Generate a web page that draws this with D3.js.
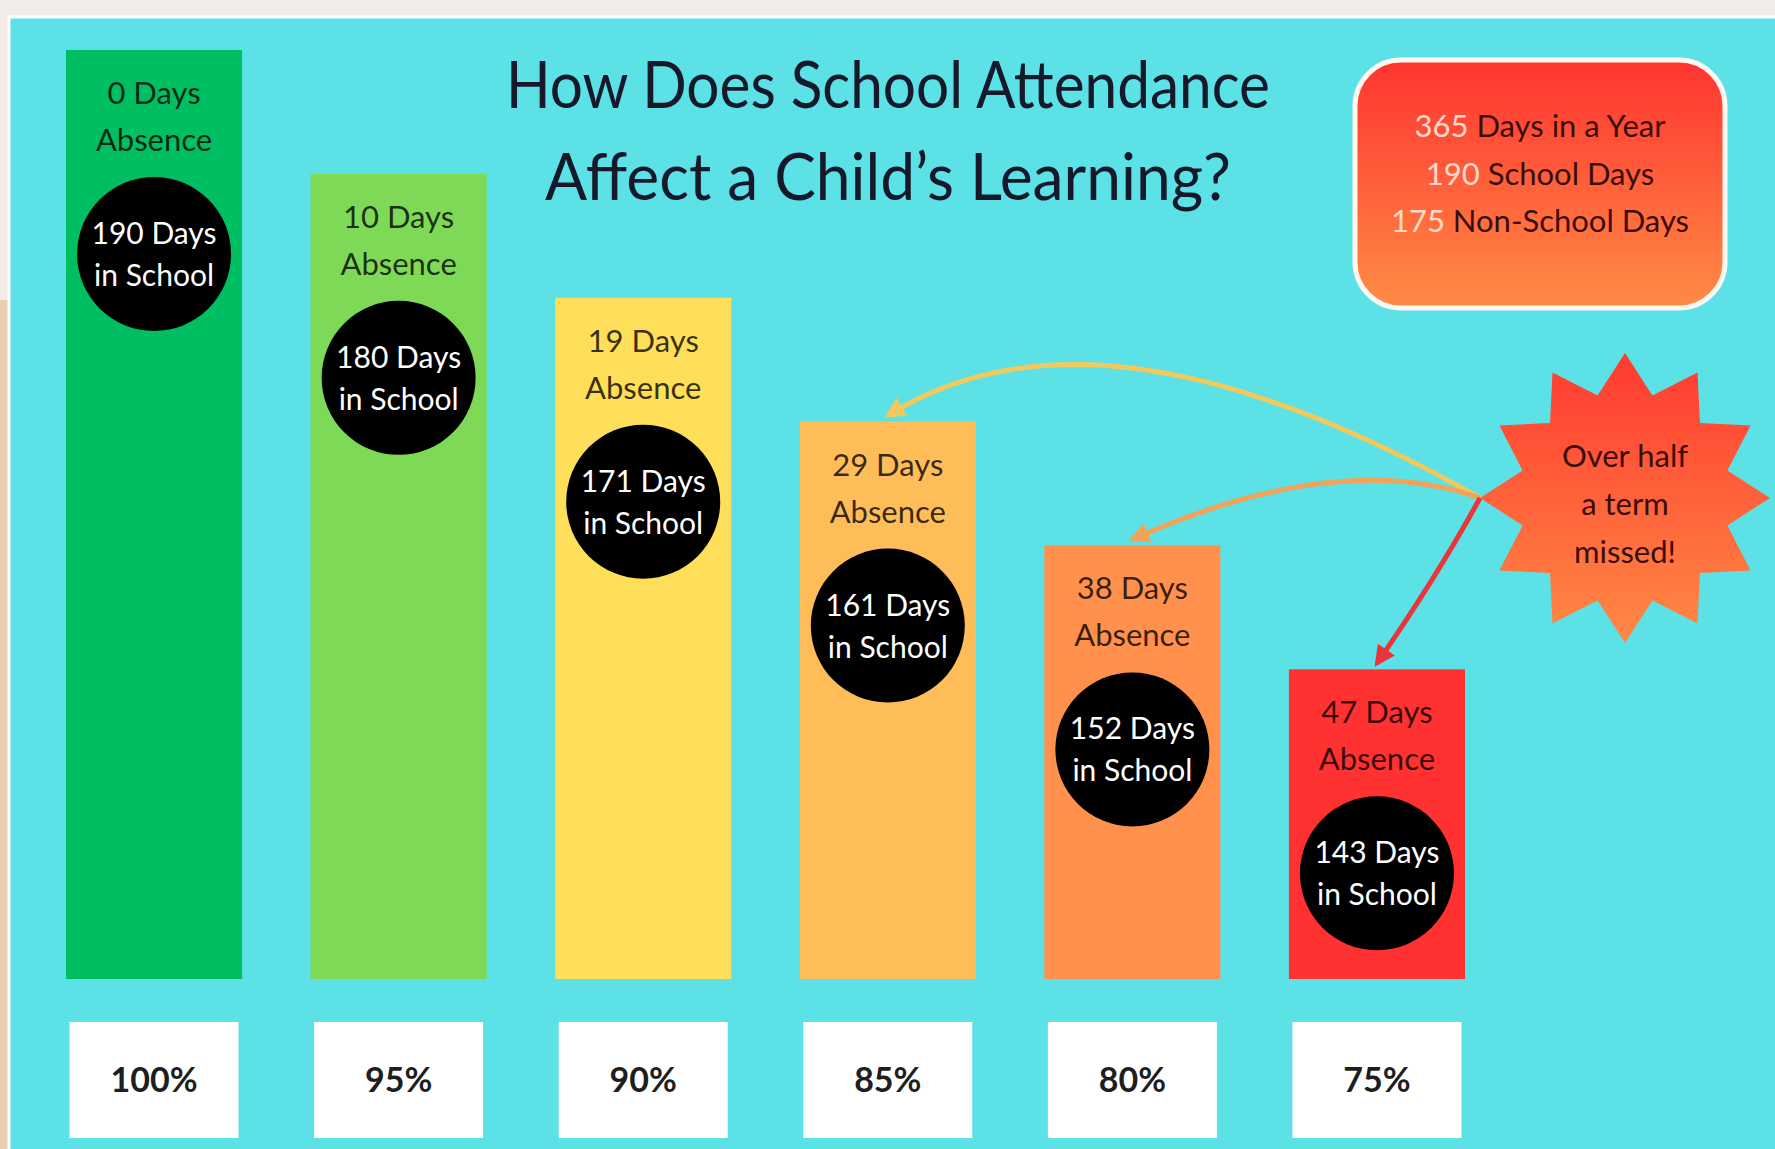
<!DOCTYPE html>
<html>
<head>
<meta charset="utf-8">
<script src="https://cdn.jsdelivr.net/npm/d3@7"></script>
<style>
  html, body { margin: 0; padding: 0; background: #efe8e1; }
  svg { display: block; }
  text { font-family: Lato, "Open Sans", sans-serif; }
</style>
</head>
<body>
<svg id="chart" width="1775" height="1149"></svg>
<script>
// ---------- data ----------
const categories    = ["100%", "95%", "90%", "85%", "80%", "75%"];
const attendancePct = [100, 95, 90, 85, 80, 75];
const absenceDays   = [0, 10, 19, 29, 38, 47];
const schoolDays    = [190, 180, 171, 161, 152, 143];
const titleLines    = ["How Does School Attendance", "Affect a Child\u2019s Learning?"];
const infoNumbers   = ["365", "190", "175"];
const infoLabels    = ["Days in a Year", "School Days", "Non-School Days"];
const starLines     = ["Over half", "a term", "missed!"];
const arrowTargets  = ["85%", "80%", "75%"];

// ---------- styles ----------
const barPalette   = ["#00bf63", "#7ed957", "#ffde59", "#ffbd59", "#ff914d", "#ff3131"];
const arrowPalette = ["#f2c95c", "#f2a35a", "#e8363c"];

const W = 1775, H = 1149;
const svg = d3.select("#chart");

// background frame
svg.append("rect").attr("x", 0).attr("y", 0).attr("width", W).attr("height", H).attr("fill", "#f1ece7");
svg.append("rect").attr("x", 0).attr("y", 300).attr("width", 10).attr("height", H - 300).attr("fill", "#e8cfb2");
svg.append("rect").attr("x", 9).attr("y", 17).attr("width", W).attr("height", H)
  .attr("fill", "#5ce1e6").attr("stroke", "#ffffff").attr("stroke-width", 3);

// gradients
const defs = svg.append("defs");
function vgrad(id, c1, c2) {
  const g = defs.append("linearGradient").attr("id", id)
    .attr("x1", 0).attr("y1", 0).attr("x2", 0).attr("y2", 1);
  g.append("stop").attr("offset", "0%").attr("stop-color", c1);
  g.append("stop").attr("offset", "100%").attr("stop-color", c2);
}
vgrad("boxGrad", "#ff3430", "#ff8c45");
vgrad("starGrad", "#ff3a30", "#ff8a45");

// scales
const x = d3.scaleBand().domain(categories).range([66, 1465]).paddingInner(0.28).paddingOuter(0);
const y = d3.scaleLinear().domain([62.5, 100]).range([979, 50]);
const color = d3.scaleOrdinal().domain(categories).range(barPalette);

const rows = categories.map((c, i) => ({
  cat: c, pct: attendancePct[i], absent: absenceDays[i], inSchool: schoolDays[i]
}));

// bars
const bars = svg.append("g").selectAll("g").data(rows).join("g");
bars.append("rect")
  .attr("x", d => x(d.cat))
  .attr("y", d => y(d.pct))
  .attr("width", x.bandwidth())
  .attr("height", d => y.range()[0] - y(d.pct))
  .attr("fill", d => color(d.cat));

const cx = d => x(d.cat) + x.bandwidth() / 2;

bars.append("text")
  .attr("x", cx).attr("y", d => y(d.pct) + 42)
  .attr("text-anchor", "middle").attr("dominant-baseline", "central")
  .attr("font-size", 31).attr("fill", "rgba(0,0,0,0.78)")
  .text(d => `${d.absent} Days`);
bars.append("text")
  .attr("x", cx).attr("y", d => y(d.pct) + 89)
  .attr("text-anchor", "middle").attr("dominant-baseline", "central")
  .attr("font-size", 31).attr("fill", "rgba(0,0,0,0.78)")
  .text("Absence");

bars.append("circle")
  .attr("cx", cx).attr("cy", d => y(d.pct) + 204)
  .attr("r", 77).attr("fill", "#000");
bars.append("text")
  .attr("x", cx).attr("y", d => y(d.pct) + 204 - 22)
  .attr("text-anchor", "middle").attr("dominant-baseline", "central")
  .attr("font-size", 30).attr("fill", "#fff")
  .text(d => `${d.inSchool} Days`);
bars.append("text")
  .attr("x", cx).attr("y", d => y(d.pct) + 204 + 20)
  .attr("text-anchor", "middle").attr("dominant-baseline", "central")
  .attr("font-size", 30).attr("fill", "#fff")
  .text("in School");

// percentage boxes (category axis)
const boxW = 169, boxTop = 1022, boxH = 116;
const boxes = svg.append("g").selectAll("g").data(rows).join("g");
boxes.append("rect")
  .attr("x", d => cx(d) - boxW / 2).attr("y", boxTop)
  .attr("width", boxW).attr("height", boxH).attr("fill", "#ffffff");
boxes.append("text")
  .attr("x", cx).attr("y", boxTop + boxH / 2 - 2)
  .attr("text-anchor", "middle").attr("dominant-baseline", "central")
  .attr("font-size", 34).attr("font-weight", 700).attr("fill", "#1e1e1e")
  .text(d => d.cat);

// title
const titleGeo = [{ y: 108, len: 764 }, { y: 200, len: 686 }];
svg.append("g").selectAll("text").data(titleLines).join("text")
  .attr("x", 888).attr("y", (d, i) => titleGeo[i].y)
  .attr("text-anchor", "middle")
  .attr("font-size", 66).attr("fill", "#15192a")
  .attr("textLength", (d, i) => titleGeo[i].len)
  .attr("lengthAdjust", "spacingAndGlyphs")
  .text(d => d);

// info box
svg.append("rect")
  .attr("x", 1355).attr("y", 60).attr("width", 370).attr("height", 248)
  .attr("rx", 46).attr("ry", 46)
  .attr("fill", "url(#boxGrad)").attr("stroke", "#fff7f0").attr("stroke-width", 5);
const info = svg.append("g").selectAll("text").data(infoNumbers).join("text")
  .attr("x", 1540).attr("y", (d, i) => 125 + i * 47.5)
  .attr("text-anchor", "middle").attr("dominant-baseline", "central")
  .attr("font-size", 31);
info.append("tspan").attr("fill", "#ffd9cc").text(d => d + " ");
info.append("tspan").attr("fill", "#3a0d0b").text((d, i) => infoLabels[i]);

// starburst
const starC = [1625, 498], rOut = 145, rIn = 106, nPts = 12;
const starData = d3.range(nPts * 2).map(k => [k * Math.PI / nPts, k % 2 === 0 ? rOut : rIn]);
svg.append("path")
  .attr("transform", `translate(${starC[0]},${starC[1]})`)
  .attr("d", d3.lineRadial().curve(d3.curveLinearClosed)(starData))
  .attr("fill", "url(#starGrad)");
svg.append("g").selectAll("text").data(starLines).join("text")
  .attr("x", starC[0]).attr("y", (d, i) => 455 + i * 48)
  .attr("text-anchor", "middle").attr("dominant-baseline", "central")
  .attr("font-size", 31).attr("fill", "#3a0d0b")
  .text(d => d);

// arrows from the star to bar tops
arrowPalette.forEach((c, i) => {
  defs.append("marker").attr("id", "ah" + i)
    .attr("viewBox", "0 0 10 10").attr("refX", 8).attr("refY", 5)
    .attr("markerWidth", 4.2).attr("markerHeight", 4.2)
    .attr("markerUnits", "strokeWidth").attr("orient", "auto")
    .append("path").attr("d", "M0,0 L10,5 L0,10 Z").attr("fill", c);
});
const start = [starC[0] - rOut, starC[1]];
const bends = [[-380, -216], [-143, -50], [-42, 77]]; // control offsets relative to start
arrowTargets.forEach((cat, i) => {
  const row = rows.find(r => r.cat === cat);
  const end = [cx(row), y(row.pct) - 6];
  const ctrl = [start[0] + bends[i][0], start[1] + bends[i][1]];
  const p = d3.path();
  p.moveTo(start[0], start[1]);
  p.quadraticCurveTo(ctrl[0], ctrl[1], end[0], end[1]);
  svg.append("path").attr("d", p.toString())
    .attr("fill", "none").attr("stroke", arrowPalette[i]).attr("stroke-width", 5)
    .attr("marker-end", `url(#ah${i})`);
});
</script>
</body>
</html>
